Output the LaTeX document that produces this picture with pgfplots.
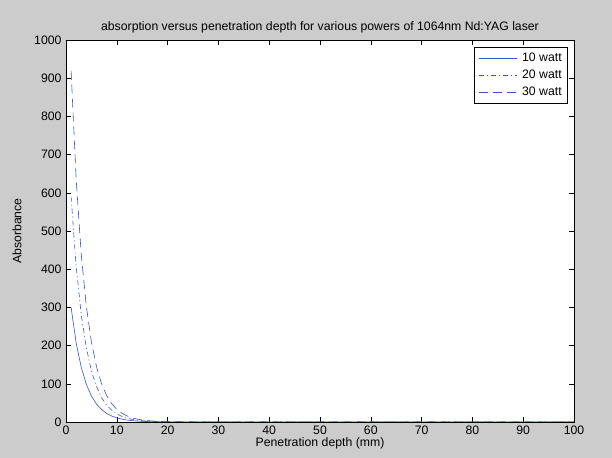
\documentclass[border=0pt]{standalone}
\usepackage{fontspec}
\setmainfont{Liberation Sans}
\usepackage{pgfplots}
\pgfplotsset{compat=1.18}
\definecolor{figbg}{RGB}{204,204,204}
\definecolor{lineblue}{RGB}{60,80,205}
\begin{document}
\begin{tikzpicture}
\fill[figbg] (-66bp,-36bp) rectangle (546bp,422bp);
\useasboundingbox (-66bp,-36bp) rectangle (546bp,422bp);
\begin{axis}[
  at={(0,0)}, anchor=south west,
  scale only axis,
  width=508bp, height=382bp,
  xmin=0, xmax=100, ymin=0, ymax=1000,
  xtick={0,10,...,100}, ytick={0,100,...,1000},
  tick align=inside,
  major tick length=5bp,
  tick style={black, line width=0.5pt},
  axis line style={black, line width=0.6pt},
  axis background/.style={fill=white},
  font=\fontsize{12.3}{14}\selectfont,
  /pgf/number format/assume math mode=true,
  /pgf/number format/1000 sep={},
  yticklabel style={xshift=-1bp},
  title={absorption versus penetration depth for various powers of 1064nm Nd:YAG laser},
  title style={yshift=-3bp},
  xlabel={Penetration depth (mm)},
  ylabel={Absorbance},
  xlabel style={yshift=3bp},
  ylabel style={yshift=6bp},
  legend style={at={(0.988,0.982)}, anchor=north east, draw=black, line width=0.5pt, font=\fontsize{12.3}{14}\selectfont, row sep=3bp, inner xsep=4bp, inner ysep=4bp,
    /tikz/every odd column/.append style={column sep=3bp}},
  legend cell align=left,
  legend image code/.code={\draw[#1] (0bp,0bp) -- (38bp,0bp);},
]
\addplot[lineblue, line width=0.6pt] coordinates {
(1,300) (2,207) (3,143) (4,99) (5,68) (6,47) (7,33) (8,22.5) (9,15.6) (10,10.8)
(11,7.5) (12,5.1) (13,3.6) (14,2.5) (15,1.7) (16,1.2) (18,0.6) (20,0.3) (25,0.1)
(30,0) (40,0) (50,0) (60,0) (70,0) (80,0) (90,0) (100,0)};
\addlegendentry{10 watt}
\addplot[lineblue, line width=0.6pt, dash pattern=on 5bp off 3bp on 1bp off 3bp] coordinates {
(1,590) (2,408) (3,281) (4,195) (5,134) (6,93) (7,64) (8,44) (9,31) (10,21)
(11,14.7) (12,10) (13,7) (14,4.9) (15,3.4) (16,2.3) (18,1.1) (20,0.6) (25,0.2)
(30,0) (40,0) (50,0) (60,0) (70,0) (80,0) (90,0) (100,0)};
\addlegendentry{20 watt}
\addplot[lineblue, line width=0.6pt, dash pattern=on 9bp off 5bp] coordinates {
(1,920) (2,636) (3,439) (4,303) (5,210) (6,145) (7,100) (8,69) (9,48) (10,33)
(11,23) (12,16) (13,11) (14,7.6) (15,5.2) (16,3.6) (18,1.7) (20,0.8) (25,0.3)
(30,0) (40,0) (50,0) (60,0) (70,0) (80,0) (90,0) (100,0)};
\addlegendentry{30 watt}
\end{axis}
\end{tikzpicture}
\end{document}
